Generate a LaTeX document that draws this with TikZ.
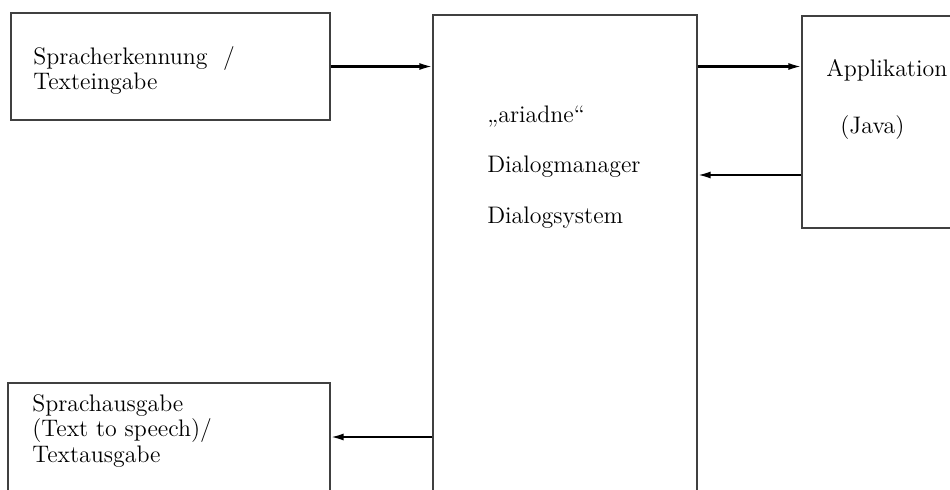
\documentclass[tikz,border=0pt]{standalone}
\usepackage{tikz}
\usetikzlibrary{arrows.meta,calc,positioning}
\tikzset{
  block/.style={
    shape = rectangle,
    draw = black!75,
    line width = 0.7pt,
    inner sep = 0pt
  },
}
\tikzset{
  flow/.style={
    line width = 1.2pt,
    -{Latex[length=2.6mm,width=1.4mm]}
  },
  txt/.style={
    anchor = base west,
    align = left,
    inner sep = 0pt,
    font = \fontsize{13.6}{14.5}\selectfont
  }
}

\begin{document}
\begin{tikzpicture}
    \def\ds{1.0}
    \clip (0,0) rectangle (19,9.78);
        % boxes
        \node[block, minimum width=6.38cm, minimum height=2.14cm] (input) at (3.41, 8.45) {};
        \node[block, minimum width=5.28cm, minimum height=9.7cm] (dm) at (11.3, 4.63) {};
        \node[block, minimum width=3.26cm, minimum height=4.24cm] (app) at (17.67, 7.34) {};
        \node[block, minimum width=6.44cm, minimum height=2.16cm] (output) at (3.38, 1.04) {};
        % texts (base = last line)
        \node[txt] (inputtxt) at (0.66, 7.98) {Spracherkennung \ /\\Texteingabe};
        \node[txt] (outputtxt) at (0.64, 0.54) {Sprachausgabe\\(Text to speech)/\\Textausgabe};
        \foreach \t [count=\i] in {„ariadne“, Dialogmanager, Dialogsystem}{
        \node[txt] (dm\i) at (9.74, 7.32-\ds*\i+\ds) {\t};
        }
        \node[txt] (apptxt) at (16.52, 8.24) {Applikation};
        \node[txt] (javatxt) at (16.8, 7.1) {(Java)};
        % connectors
        \draw[flow] (input.east) -- (input.east -| dm.west);
        \draw[flow] (dm.east |- input.east) -- (app.west |- input.east);
        \draw[flow] ([yshift=-1.06cm]app.west) -- ([yshift=-1.06cm]app.west -| dm.east);
        \draw[flow] (dm.west |- output.east) -- (output.east);
    \end{tikzpicture}
\end{document}
